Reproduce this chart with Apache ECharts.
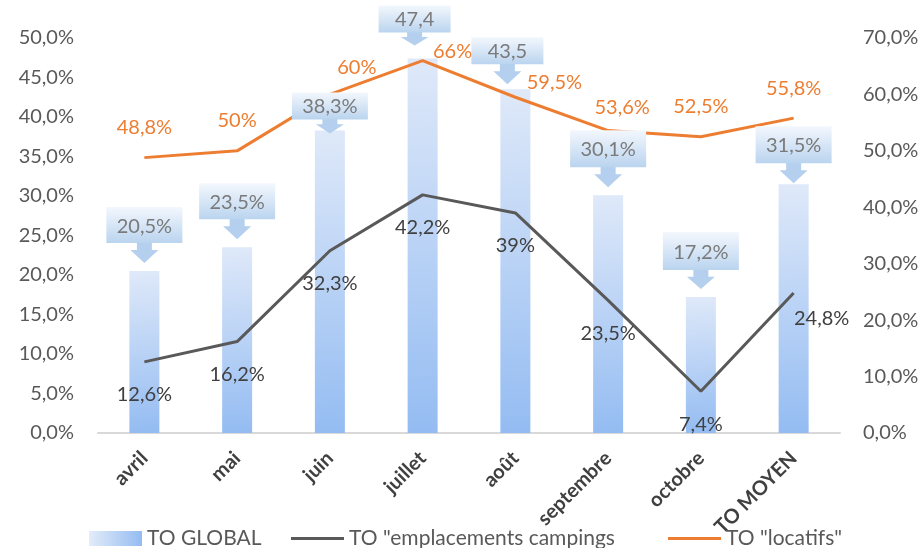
<!DOCTYPE html>
<html><head><meta charset="utf-8">
<script src="https://cdn.jsdelivr.net/npm/echarts@6/dist/echarts.min.js"></script>
<style>html,body{margin:0;padding:0;background:#fff}#c{width:924px;height:548px}</style>
</head><body><div id="c"></div>
<script>
const categories = ['avril','mai','juin','juillet','août','septembre','octobre','TO MOYEN'];
const toGlobal = [20.5, 23.5, 38.3, 47.4, 43.5, 30.1, 17.2, 31.5];
const toGlobalLabels = ['20,5%','23,5%','38,3%','47,4','43,5','30,1%','17,2%','31,5%'];
const toEmplacements = [12.6, 16.2, 32.3, 42.2, 39, 23.5, 7.4, 24.8];
const toLocatifs = [48.8, 50, 60, 66, 59.5, 53.6, 52.5, 55.8];
const seriesNames = ['TO GLOBAL', 'TO "emplacements campings', 'TO "locatifs"'];

const FONT = 'Lato';
const fmtAxis = v => v.toFixed(1).replace('.', ',') + '%';
const fmtVal = v => String(v).replace('.', ',') + '%';

// layout (positions only)
const calloutLayout = [
  {h:36, gap:28, al:20, dx:0},
  {h:36, gap:28, al:20, dx:0},
  {h:27, gap:11, al:14, dx:0},
  {h:27, gap:26, al:13, dx:-8},
  {h:27, gap:25, al:20, dx:-8},
  {h:37, gap:28, al:20, dx:0},
  {h:38, gap:27, al:19, dx:0},
  {h:37, gap:21, al:20, dx:0}
];
const orangeOffsets = [[0,0],[0,0],[27,3],[30,21],[39,15],[14,7],[0,0],[0,0]];
const blackOffsets = [[0,0],[0,0],[0,0],[0,0],[0,0],[0,0],[0,0],[28,-8]];
const lineIcon = 'path://M0,0h0.1v0.1h-0.1z M0,6h53v3h-53z M0,14.9h0.1v0.1h-0.1z';

function renderCallout(params, api) {
  const i = api.value(0);
  const p = api.coord([i, api.value(1)]);
  const L = calloutLayout[i];
  const cx = p[0] + L.dx;
  const bottom = p[1] - L.gap;
  const top = bottom - L.h;
  const text = toGlobalLabels[i];
  const w = text.indexOf('%') >= 0 ? 76 : 72;
  const stem = L.al * 0.35;
  const tip = bottom + L.al;
  return {
    type: 'group',
    children: [
      {type: 'polygon', shape: {points: [[cx-7.5,bottom-2],[cx+7.5,bottom-2],[cx+7.5,bottom+stem],[cx+14,bottom+stem],[cx,tip],[cx-14,bottom+stem],[cx-7.5,bottom+stem]]},
       style: {fill: '#b4d0ee'}},
      {type: 'rect', shape: {x: cx - w/2, y: top, width: w, height: L.h},
       style: {fill: new echarts.graphic.LinearGradient(0,0,0,1,[{offset:0,color:'#f3f7fd'},{offset:1,color:'#bad4ef'}])}},
      {type: 'text', style: {text: text, x: cx, y: top + L.h/2 + 1, align: 'center', verticalAlign: 'middle',
       fill: '#7a7a7a', fontSize: 20, fontFamily: FONT}}
    ]
  };
}

const legendText = {fontSize: 21, color: '#595959', fontFamily: FONT};
const chart = echarts.init(document.getElementById('c'));
chart.setOption({
  animation: false,
  textStyle: {fontFamily: FONT},
  grid: {left: 98, right: 84, top: 38, bottom: 115},
  legend: [
    {left: 89, top: 528, padding: 0, itemWidth: 53, itemHeight: 15, textStyle: legendText,
     data: [{name: seriesNames[0], icon: 'rect', itemStyle: {color: new echarts.graphic.LinearGradient(0,0,1,0,[{offset:0,color:'#e3ecf9'},{offset:1,color:'#94bcf2'}])}}]},
    {left: 291, top: 528, padding: 0, itemWidth: 53, itemHeight: 15, textStyle: legendText,
     data: [{name: seriesNames[1], icon: lineIcon}]},
    {left: 668, top: 528, padding: 0, itemWidth: 53, itemHeight: 15, textStyle: legendText,
     data: [{name: seriesNames[2], icon: lineIcon}]}
  ],
  xAxis: {
    type: 'category', data: categories,
    axisLine: {lineStyle: {color: '#d9d9d9', width: 2}},
    axisTick: {show: false},
    axisLabel: {rotate: 45, interval: 0, fontWeight: 'bold', color: '#404040', fontSize: 20, margin: 22, fontFamily: FONT}
  },
  yAxis: [
    {type: 'value', min: 0, max: 50, interval: 5, splitLine: {show: false}, axisLine: {show: false}, axisTick: {show: false},
     axisLabel: {formatter: fmtAxis, color: '#595959', fontSize: 20, margin: 24, fontFamily: FONT}},
    {type: 'value', min: 0, max: 70, interval: 10, splitLine: {show: false}, axisLine: {show: false}, axisTick: {show: false},
     axisLabel: {formatter: fmtAxis, color: '#595959', fontSize: 20, margin: 23, fontFamily: FONT}}
  ],
  series: [
    {name: seriesNames[0], type: 'bar', yAxisIndex: 0, barWidth: 30, data: toGlobal,
     itemStyle: {color: new echarts.graphic.LinearGradient(0,0,0.3,1,[{offset:0,color:'#dfe9f9'},{offset:1,color:'#94bcf2'}])}, z: 2},
    {name: seriesNames[1], type: 'line', yAxisIndex: 1, symbol: 'circle', symbolSize: 0.1, showSymbol: true,
     lineStyle: {color: '#595959', width: 3}, itemStyle: {color: '#595959'}, z: 3,
     data: toEmplacements.map((v, i) => ({value: v, label: {offset: blackOffsets[i]}})),
     label: {show: true, position: 'bottom', distance: 23, formatter: p => fmtVal(p.value), color: '#404040', fontSize: 20, fontFamily: FONT}},
    {name: seriesNames[2], type: 'line', yAxisIndex: 1, symbol: 'circle', symbolSize: 0.1, showSymbol: true,
     lineStyle: {color: '#ed7d31', width: 3}, itemStyle: {color: '#ed7d31'}, z: 3,
     data: toLocatifs.map((v, i) => ({value: v, label: {offset: orangeOffsets[i]}})),
     label: {show: true, position: 'top', distance: 20, formatter: p => fmtVal(p.value), color: '#ed7d31', fontSize: 20, fontFamily: FONT}},
    {type: 'custom', yAxisIndex: 0, renderItem: renderCallout, z: 5, silent: true, clip: false,
     encode: {x: 0, y: 1}, data: toGlobal.map((v, i) => [i, v])}
  ]
});
</script>
</body></html>
